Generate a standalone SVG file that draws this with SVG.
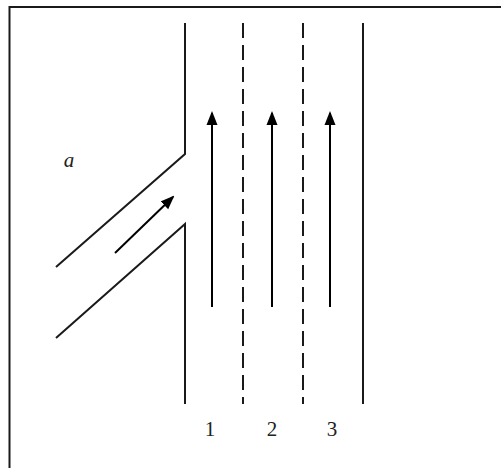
<svg xmlns="http://www.w3.org/2000/svg" width="501" height="468" viewBox="0 0 501 468">
<defs>
<style>
.ln{stroke:#1a1a1a;stroke-width:2;fill:none}
.dash{stroke:#1a1a1a;stroke-width:2;fill:none;stroke-dasharray:15 7}
.arr{stroke:#000;stroke-width:2;fill:none;marker-end:url(#ah)}
.lbl{font-family:"Liberation Serif",serif;font-size:21px;fill:#222}
</style>
<marker id="ah" viewBox="0 0 14 12" refX="12" refY="6" markerWidth="14" markerHeight="12" markerUnits="userSpaceOnUse" orient="auto">
<path d="M0,0.5 L14,6 L0,11.5 Z" fill="#000"/>
</marker>
</defs>
<rect width="501" height="468" fill="#fff"/>
<g id="frame"><path class="ln" d="M9.5,468 V7 H501"/></g>
<g id="road">
<path class="ln" d="M185,23 V154 L56,267"/>
<path class="ln" d="M185,404 V224 L56,338"/>
<path class="ln" d="M363,23 V404"/>
<path class="dash" d="M243,23 V404"/>
<path class="dash" d="M303,23 V404"/>
</g>
<g id="connectors">
<path class="arr" d="M212,307 V113"/>
<path class="arr" d="M272,307 V113"/>
<path class="arr" d="M330,307 V113"/>
<path class="arr" d="M115,253 L173,197"/>
</g>
<g id="labels">
<text class="lbl" x="69" y="167" font-style="italic" text-anchor="middle">a</text>
<text class="lbl" x="210" y="436" text-anchor="middle">1</text>
<text class="lbl" x="272" y="436" text-anchor="middle">2</text>
<text class="lbl" x="332" y="436" text-anchor="middle">3</text>
</g>
</svg>
